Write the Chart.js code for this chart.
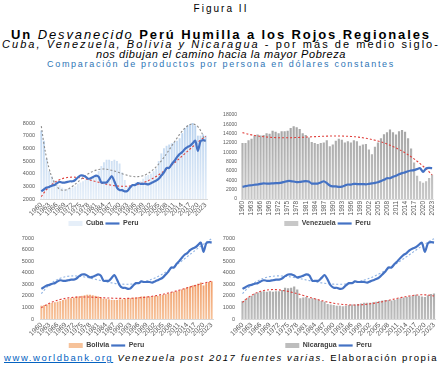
<!DOCTYPE html>
<html>
<head>
<meta charset="utf-8">
<script src="https://cdn.jsdelivr.net/npm/chart.js@4.4.1/dist/chart.umd.min.js"></script>
<style>
  body { margin: 0; width: 442px; height: 368px; background: #fff; position: relative; overflow: hidden;
         font-family: 'Liberation Sans', Arial, sans-serif; color: #000; }
  .row { position: absolute; left: 0; width: 442px; text-align: center; white-space: nowrap; line-height: 1; }
  .row span { display: inline-block; white-space: nowrap; }
  canvas { position: absolute; }
</style>
</head>
<body>
<div class="row" style="top:4px;font-size:10px"><span id="t0">Figura II</span></div>
<div class="row" style="top:27.5px;font-size:13px"><span id="t1"><b>Un</b> <i>Desvanecido</i> <b>Perú Humilla a los Rojos Regionales</b></span></div>
<div class="row" style="top:38.5px;font-size:11px"><span id="t2"><i>Cuba, Venezuela, Bolivia y Nicaragua</i> - por más de medio siglo-</span></div>
<div class="row" style="top:49px;font-size:11px"><span id="t3"><i>nos dibujan el camino hacia la mayor Pobreza</i></span></div>
<div class="row" style="top:59.5px;font-size:9px;color:#2e75b6"><span id="t4">Comparación de productos por persona en dólares constantes</span></div>
<div class="row" style="top:353px;font-size:9.5px;text-align:left;left:4px"><span id="t5"><a style="color:#0563c1;text-decoration:underline">www.worldbank.org</a> <i>Venezuela post 2017 fuentes varias.</i> Elaboración propia</span></div>

<canvas id="cCuba" width="221" height="125" style="left:0;top:112px"></canvas>
<canvas id="cVen" width="221" height="133" style="left:221px;top:104px"></canvas>
<canvas id="cBol" width="221" height="131" style="left:0;top:228px"></canvas>
<canvas id="cNic" width="221" height="131" style="left:221px;top:228px"></canvas>

<script>
// anos 1960 - 2023
const years = ['1960','1961','1962','1963','1964','1965','1966','1967','1968','1969',
  '1970','1971','1972','1973','1974','1975','1976','1977','1978','1979',
  '1980','1981','1982','1983','1984','1985','1986','1987','1988','1989',
  '1990','1991','1992','1993','1994','1995','1996','1997','1998','1999',
  '2000','2001','2002','2003','2004','2005','2006','2007','2008','2009',
  '2010','2011','2012','2013','2014','2015','2016','2017','2018','2019',
  '2020','2021','2022','2023'];

// PIB por persona, dolares constantes
const peru = [2600,2750,2900,2950,3050,3100,3250,3350,3300,3300,
  3350,3400,3400,3500,3700,3850,3850,3750,3600,3650,
  3750,3850,3750,3300,3300,3300,3550,3800,3400,2900,
  2700,2700,2600,2650,2900,3100,3100,3250,3200,3200,
  3200,3150,3250,3350,3450,3600,3850,4100,4450,4450,
  4750,5000,5300,5550,5700,5950,6100,6200,6400,6600,
  5800,6550,6650,6600];

const cuba = [7400,6600,5200,4200,3800,3500,3300,3100,2900,2800,
  2800,2800,2900,3000,3200,3300,3400,3500,3600,3600,
  3700,3900,4200,4600,4900,5100,5100,5000,5100,5000,
  4800,4100,3500,3000,3000,3100,3300,3300,3400,3600,
  3800,3900,4000,4200,4400,5000,5600,6000,6200,6300,
  6400,6500,6600,6800,7200,7600,7800,7900,8000,7800,
  7000,7000,7100,7000];

const venezuela = [12000,12000,12600,12900,13600,13800,13600,13700,14100,14000,
  14600,14400,14100,14500,14500,14600,15200,15600,15400,15000,
  14100,13700,13200,12200,12000,11800,12000,12100,12600,11300,
  11700,12500,12900,12700,12100,12400,12100,12600,12400,11400,
  11700,11800,10600,9600,11200,12100,13000,13900,14300,14900,
  14300,13800,14500,14800,14400,13000,10800,7800,5000,3800,
  3500,3800,4500,5200];

const bolivia = [1150,1200,1250,1350,1400,1450,1500,1550,1650,1700,
  1750,1800,1850,1950,1950,2000,2050,2100,2100,2050,
  2000,1950,1850,1750,1750,1700,1650,1650,1650,1700,
  1700,1750,1750,1800,1850,1850,1900,1950,1950,1950,
  1950,1950,2000,2000,2050,2100,2150,2200,2300,2350,
  2400,2450,2550,2650,2750,2800,2900,2950,3050,3150,
  2900,3100,3200,3250];

const nicaragua = [1550,1700,1850,2000,2200,2300,2350,2400,2350,2400,
  2350,2400,2400,2500,2700,2650,2700,2800,2550,1800,
  1850,1900,1800,1800,1750,1650,1550,1500,1300,1250,
  1200,1150,1150,1100,1150,1200,1250,1250,1300,1350,
  1400,1400,1400,1450,1500,1550,1600,1650,1650,1600,
  1650,1750,1800,1850,1900,1950,2000,2100,2000,1950,
  1900,2050,2150,2200];

// marcas del eje y
const cubaTicks = [2000,3000,4000,5000,6000,7000,8000];
const venTicks = [0,2000,4000,6000,8000,10000,12000,14000,16000,18000];
const bolTicks = [0,1000,2000,3000,4000,5000,6000,7000];
const nicTicks = [0,1000,2000,3000,4000,5000,6000,7000];

// ajusta el ancho de un texto con espaciado de letras
function fitText(id, w) {
  const el = document.getElementById(id);
  const natural = el.getBoundingClientRect().width;
  const n = el.textContent.length;
  el.style.letterSpacing = ((w - natural) / n) + 'px';
}
fitText('t0', 55);
fitText('t1', 420);
fitText('t2', 438);
fitText('t3', 250);
fitText('t4', 348);
fitText('t5', 434);

// linea de tendencia polinomica (como la de Excel)
function trend(vals, deg) {
  const n = vals.length, m = deg + 1, h = (n - 1) / 2;
  const A = [], b = [];
  for (let r = 0; r < m; r++) { A.push(new Array(m).fill(0)); b.push(0); }
  vals.forEach((v, i) => {
    const t = (i - h) / h;
    for (let r = 0; r < m; r++) {
      b[r] += v * Math.pow(t, r);
      for (let c = 0; c < m; c++) A[r][c] += Math.pow(t, r + c);
    }
  });
  for (let k = 0; k < m; k++) {
    let p = k;
    for (let r = k + 1; r < m; r++) if (Math.abs(A[r][k]) > Math.abs(A[p][k])) p = r;
    [A[k], A[p]] = [A[p], A[k]]; [b[k], b[p]] = [b[p], b[k]];
    for (let r = k + 1; r < m; r++) {
      const f = A[r][k] / A[k][k];
      for (let c = k; c < m; c++) A[r][c] -= f * A[k][c];
      b[r] -= f * b[k];
    }
  }
  const co = new Array(m).fill(0);
  for (let k = m - 1; k >= 0; k--) {
    let s = b[k];
    for (let c = k + 1; c < m; c++) s -= A[k][c] * co[c];
    co[k] = s / A[k][k];
  }
  return vals.map((_, i) => {
    const t = (i - h) / h;
    return co.reduce((s, c, r) => s + c * Math.pow(t, r), 0);
  });
}

function vGrad(top, bottom) {
  return function (ctx) {
    const area = ctx.chart.chartArea;
    if (!area) return top;
    const g = ctx.chart.ctx.createLinearGradient(0, area.top, 0, area.bottom);
    g.addColorStop(0, top);
    g.addColorStop(1, bottom);
    return g;
  };
}

function panel(id, o) {
  const datasets = [
    { type: 'bar', label: o.name, data: o.values, backgroundColor: vGrad(o.top, o.bottom),
      barPercentage: 0.72, categoryPercentage: 1, order: 3, pointStyle: 'rect' },
    { type: 'line', label: 'Peru', data: peru, borderColor: '#4472c4', backgroundColor: '#4472c4',
      borderWidth: 2.2, pointRadius: 0, tension: 0.25, order: 0, pointStyle: 'line' }
  ];
  o.trends.forEach(t => datasets.push({
    type: 'line', label: '', data: t.data, borderColor: t.color, borderWidth: 1.1,
    borderDash: [2, 2], pointRadius: 0, tension: 0.4, order: 1
  }));

  new Chart(document.getElementById(id), {
    data: { labels: years, datasets: datasets },
    options: {
      responsive: false,
      animation: false,
      layout: { padding: { top: o.padTop, left: 0, right: o.padRight, bottom: 0 } },
      plugins: {
        tooltip: { enabled: false },
        legend: {
          position: 'bottom',
          labels: {
            usePointStyle: true, pointStyleWidth: 14, boxHeight: 5, padding: 2,
            font: { size: 7, weight: 'bold', family: 'Liberation Sans' }, color: '#404040',
            filter: item => item.datasetIndex < 2,
            sort: (a, b) => a.datasetIndex - b.datasetIndex
          }
        }
      },
      scales: {
        x: {
          grid: { display: false, drawTicks: false },
          border: { color: '#d9d9d9' },
          afterFit: s => { s.height = o.xH; },
          ticks: {
            autoSkip: false, minRotation: o.rot, maxRotation: o.rot, padding: 2,
            font: { size: o.xFont, family: 'Liberation Sans' }, color: '#595959',
            callback: function (v, i) { return i % 3 === 0 ? this.getLabelForValue(v) : null; }
          }
        },
        y: {
          min: o.ticks[0], max: o.ticks[o.ticks.length - 1],
          grid: { display: false, drawTicks: false },
          border: { display: false },
          afterFit: s => { s.width = o.axisW; },
          ticks: {
            stepSize: o.ticks[1] - o.ticks[0], padding: o.yPad,
            font: { size: o.yFont, family: 'Liberation Sans' }, color: '#595959',
            callback: v => String(v)
          }
        }
      }
    }
  });
}

const peruTrend = trend(peru, 4);

panel('cCuba', {
  name: 'Cuba', values: cuba, top: '#b7d1ee', bottom: '#e6eff9', ticks: cubaTicks,
  padTop: 11, padRight: 14, axisW: 40, rot: 45, xH: 19, xFont: 7, yFont: 5.5, yPad: 5,
  trends: [{ data: trend(cuba, 6), color: '#8c8c8c' }, { data: peruTrend, color: '#e0403c' }]
});
panel('cVen', {
  name: 'Venezuela', values: venezuela, top: '#a0a0a0', bottom: '#c8c8c8', ticks: venTicks,
  padTop: 11, padRight: 8, axisW: 20, rot: 90, xH: 19, xFont: 6.5, yFont: 5, yPad: 4,
  trends: [{ data: trend(venezuela, 3), color: '#e0403c' }]
});
panel('cBol', {
  name: 'Bolivia', values: bolivia, top: '#ea7430', bottom: '#f6c29a', ticks: bolTicks,
  padTop: 10, padRight: 8, axisW: 40, rot: 45, xH: 21, xFont: 7, yFont: 5.5, yPad: 6,
  trends: [{ data: trend(bolivia, 4), color: '#e0403c' }, { data: peruTrend, color: '#8fb3e3' }]
});
panel('cNic', {
  name: 'Nicaragua', values: nicaragua, top: '#8a8a8a', bottom: '#bdbdbd', ticks: nicTicks,
  padTop: 10, padRight: 6, axisW: 20, rot: 45, xH: 21, xFont: 7, yFont: 5.5, yPad: 6,
  trends: [{ data: trend(nicaragua, 4), color: '#e0403c' }, { data: peruTrend, color: '#8fb3e3' }]
});
</script>
</body>
</html>
